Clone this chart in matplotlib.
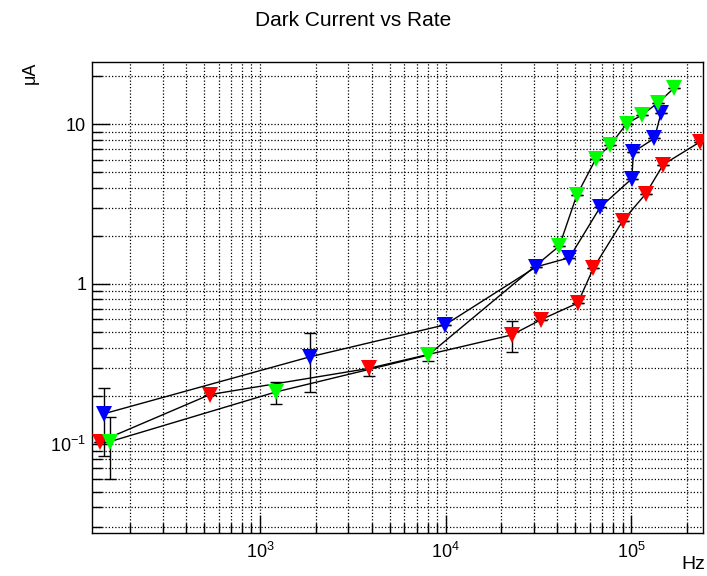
import numpy as np
import matplotlib
matplotlib.use("Agg")
import matplotlib.pyplot as plt
from matplotlib.ticker import FixedLocator, LogLocator, NullFormatter

plt.rcParams['font.family'] = ['Liberation Sans', 'DejaVu Sans']
plt.rcParams['mathtext.fontset'] = 'custom'
plt.rcParams['mathtext.rm'] = 'Liberation Sans'
plt.rcParams['mathtext.default'] = 'regular'

# rate (Hz) and dark current (uA) for the three series
red_x = [137, 537, 3846, 22760, 32600, 51600, 62700, 90200, 120000, 149000, 235600]
red_y = [0.103, 0.203, 0.296, 0.480, 0.597, 0.760, 1.26, 2.49, 3.67, 5.59, 7.76]
red_err = [0.0, 0.0, 0.03, 0.105, 0.0, 0.0, 0.0, 0.0, 0.0, 0.0, 0.0]

blue_x = [144, 1860, 9940, 30800, 46500, 68100, 100900, 102900, 133600, 145100]
blue_y = [0.154, 0.350, 0.555, 1.28, 1.46, 3.02, 4.56, 6.71, 8.16, 11.8]
blue_err = [0.07, 0.14, 0.0, 0.0, 0.0, 0.0, 0.0, 0.0, 0.0, 0.0]

green_x = [155, 1220, 8070, 41070, 50900, 64700, 77100, 94800, 114200, 139300, 171200]
green_y = [0.103, 0.211, 0.359, 1.73, 3.58, 6.10, 7.40, 10.1, 11.4, 13.6, 16.9]
green_err = [0.043, 0.033, 0.03, 0.0, 0.0, 0.0, 0.0, 0.0, 0.0, 0.0, 0.0]

yticks = [0.1, 1, 10]
ytick_labels = ['$10^{-1}$', '1', '10']
xticks = [1e3, 1e4, 1e5]
xtick_labels = ['$10^{3}$', '$10^{4}$', '$10^{5}$']

fig = plt.figure(figsize=(7.07, 5.76), dpi=100)
ax = fig.add_axes([0.1297, 0.0741, 0.8651, 0.8177])

for xs, ys, es, col in [(red_x, red_y, red_err, '#ff0000'),
                        (blue_x, blue_y, blue_err, '#0000ff'),
                        (green_x, green_y, green_err, '#00ff00')]:
    ax.plot(xs, ys, color='black', lw=1, zorder=3)
    ax.errorbar(xs, ys, yerr=es, fmt='none', ecolor='black', elinewidth=1,
                capsize=4, capthick=1, zorder=4)
    ax.plot(xs, ys, linestyle='none', marker='v', ms=11, color=col,
            markeredgewidth=0, zorder=5)

ax.set_xscale('log')
ax.set_yscale('log')
ax.set_xlim(124, 245000)
ax.set_ylim(0.0275, 24.4)

ax.xaxis.set_major_locator(FixedLocator(xticks))
ax.set_xticklabels(xtick_labels)
ax.yaxis.set_major_locator(FixedLocator(yticks))
ax.set_yticklabels(ytick_labels)
ax.xaxis.set_minor_locator(LogLocator(base=10, subs=np.arange(2, 10)))
ax.yaxis.set_minor_locator(LogLocator(base=10, subs=np.arange(2, 10)))
ax.xaxis.set_minor_formatter(NullFormatter())
ax.yaxis.set_minor_formatter(NullFormatter())

ax.tick_params(which='both', direction='in', top=False, right=False,
               labelsize=13, width=1, color='black')
ax.tick_params(which='major', length=13)
ax.tick_params(which='minor', length=7)
ax.tick_params(axis='y', pad=4)
ax.tick_params(axis='x', pad=6)

ax.grid(True, which='both', color='black', linestyle=(0, (1, 1.6)), lw=0.9)
ax.set_axisbelow(True)
for sp in ax.spines.values():
    sp.set_linewidth(1)

fig.text(0.5, 0.965, 'Dark Current vs Rate', ha='center', va='center', fontsize=15)
fig.text(30 / 707, 1 - 62 / 576, 'μA', rotation=90, ha='center', va='top', fontsize=13)
fig.text(705 / 707, 1 - 573 / 576, 'Hz', ha='right', va='bottom', fontsize=14)

fig.savefig('out.png', dpi=100)
